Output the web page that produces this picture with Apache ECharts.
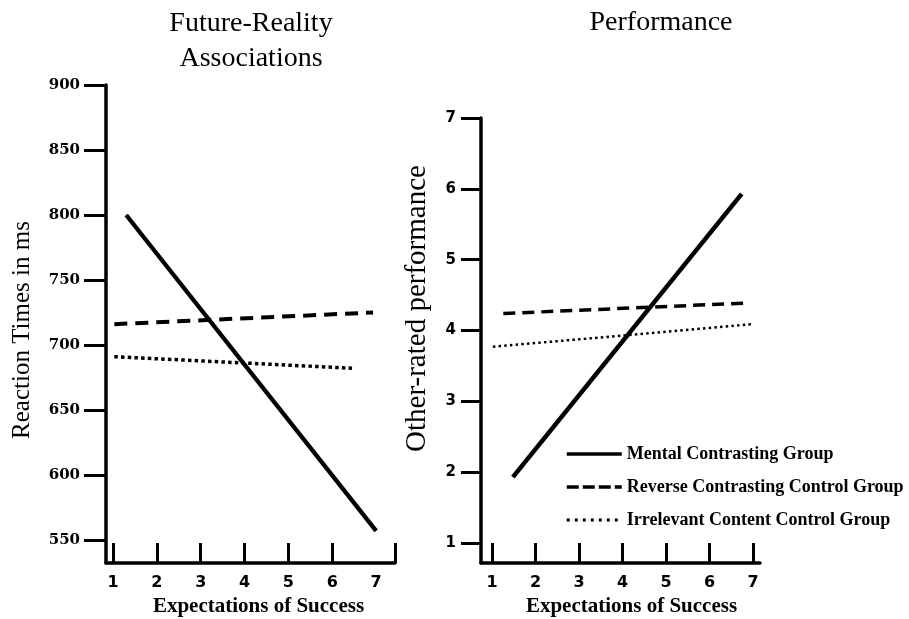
<!DOCTYPE html>
<html>
<head>
<meta charset="utf-8">
<script src="https://cdn.jsdelivr.net/npm/echarts@6/dist/echarts.min.js"></script>
<style>
  html, body { margin: 0; padding: 0; background: #fff; }
  #chart { width: 909px; height: 619px; }
</style>
</head>
<body>
<div id="chart"></div>
<script>
// Expectation levels on the x axis (both panels)
const expectationLevels = [1, 2, 3, 4, 5, 6, 7];
// Tick values for each y axis
const reactionTicks = [550, 600, 650, 700, 750, 800, 850, 900];
const performanceTicks = [1, 2, 3, 4, 5, 6, 7];

// Group names
const groupNames = [
  'Mental Contrasting Group',
  'Reverse Contrasting Control Group',
  'Irrelevant Content Control Group'
];

// Future-reality associations: reaction times (ms) by expectations of success
const rtMental = [[1.3, 800], [7.0, 557]];
const rtReverse = [[1.03, 716], [6.93, 725]];
const rtIrrelevant = [[1.03, 691], [6.52, 682]];

// Other-rated performance by expectations of success
const perfMental = [[1.48, 1.93], [6.74, 5.93]];
const perfReverse = [[1.26, 4.24], [6.93, 4.39]];
const perfIrrelevant = [[1.02, 3.77], [6.99, 4.09]];

const chart = echarts.init(document.getElementById('chart'), null, { renderer: 'canvas' });

const black = '#000';
const serif = '"Liberation Serif", "Times New Roman", serif';

function xAxisFor(gridIndex, min, max, tickValues, nameShift) {
  return {
    type: 'value',
    gridIndex: gridIndex,
    min: min,
    max: max,
    name: 'Expectations of Success',
    nameLocation: 'middle',
    nameGap: 32,
    nameTextStyle: {
      fontFamily: serif, fontWeight: 'bold', fontSize: 21, color: black,
      padding: [0, 0, 0, nameShift]
    },
    axisLine: { show: true, onZero: false, lineStyle: { color: black, width: 3.5 } },
    axisTick: {
      show: true, inside: true, length: 20, customValues: tickValues,
      lineStyle: { color: black, width: 3 }
    },
    axisLabel: {
      customValues: expectationLevels, margin: 12,
      fontFamily: '"DejaVu Sans", sans-serif', fontWeight: 'bold', fontSize: 16, color: black
    },
    splitLine: { show: false }
  };
}

function lineSeries(name, data, xi, yi, width, dash) {
  return {
    name: name,
    type: 'line',
    xAxisIndex: xi,
    yAxisIndex: yi,
    data: data,
    symbol: 'none',
    silent: true,
    animation: false,
    lineStyle: { color: black, width: width, type: dash }
  };
}

const option = {
  backgroundColor: '#fff',
  animation: false,
  title: [
    {
      text: 'Future-Reality\nAssociations',
      left: 251, top: 6, padding: 0, textAlign: 'center',
      textStyle: { fontFamily: serif, fontWeight: 'normal', fontSize: 28, lineHeight: 35, color: black }
    },
    {
      text: 'Performance',
      left: 661, top: 5, padding: 0, textAlign: 'center',
      textStyle: { fontFamily: serif, fontWeight: 'normal', fontSize: 28, lineHeight: 35, color: black }
    }
  ],
  grid: [
    { left: 106, top: 85, width: 289, height: 478, containLabel: false, outerBoundsMode: 'none' },
    { left: 481, top: 118, width: 279, height: 445, containLabel: false, outerBoundsMode: 'none' }
  ],
  xAxis: [
    xAxisFor(0, 0.84, 7.43, [1, 2, 3, 4, 5, 6, 7.43], 16),
    xAxisFor(1, 0.747, 7.161, expectationLevels, 22)
  ],
  yAxis: [
    {
      type: 'value', gridIndex: 0, min: 532.3, max: 900,
      name: 'Reaction Times in ms',
      nameLocation: 'middle', nameRotate: 90, nameGap: 71,
      nameTextStyle: { fontFamily: serif, fontSize: 25, color: black, padding: [0, 12, 0, 0] },
      axisLine: { show: true, onZero: false, lineStyle: { color: black, width: 3.5 } },
      axisTick: { show: true, length: 22, customValues: reactionTicks, lineStyle: { color: black, width: 3 } },
      axisLabel: {
        customValues: reactionTicks, margin: 26,
        fontFamily: '"DejaVu Serif", serif', fontWeight: 'bold', fontSize: 15, color: black
      },
      splitLine: { show: false }
    },
    {
      type: 'value', gridIndex: 1, min: 0.718, max: 7,
      name: 'Other-rated performance',
      nameLocation: 'middle', nameRotate: 90, nameGap: 49,
      nameTextStyle: { fontFamily: serif, fontSize: 29, color: black, padding: [0, 0, 0, 64] },
      axisLine: { show: true, onZero: false, lineStyle: { color: black, width: 3.5 } },
      axisTick: { show: true, length: 20, customValues: performanceTicks, lineStyle: { color: black, width: 3 } },
      axisLabel: {
        customValues: performanceTicks, margin: 25,
        fontFamily: '"DejaVu Sans", sans-serif', fontWeight: 'bold', fontSize: 15, color: black
      },
      splitLine: { show: false }
    }
  ],
  legend: {
    orient: 'vertical',
    left: 565,
    top: 445,
    padding: 0,
    itemWidth: 55,
    itemHeight: 14,
    itemGap: 15,
    selectedMode: false,
    itemStyle: { opacity: 0, borderWidth: 0 },
    textStyle: { fontFamily: serif, fontWeight: 'bold', fontSize: 18, color: black },
    data: [
      { name: groupNames[0], lineStyle: { width: 3.5, type: 'solid', color: black } },
      { name: groupNames[1], lineStyle: { width: 3.5, type: [12, 4], color: black } },
      { name: groupNames[2], lineStyle: { width: 3, type: [3, 5], color: black } }
    ]
  },
  series: [
    lineSeries(groupNames[0], rtMental, 0, 0, 4.3, 'solid'),
    lineSeries(groupNames[1], rtReverse, 0, 0, 4, [13, 8]),
    lineSeries(groupNames[2], rtIrrelevant, 0, 0, 3.5, [3.5, 3.2]),
    lineSeries(groupNames[0], perfMental, 1, 1, 4.5, 'solid'),
    lineSeries(groupNames[1], perfReverse, 1, 1, 3.5, [12, 7]),
    lineSeries(groupNames[2], perfIrrelevant, 1, 1, 2.5, [2.5, 3.2])
  ]
};

chart.setOption(option);
</script>
</body>
</html>
